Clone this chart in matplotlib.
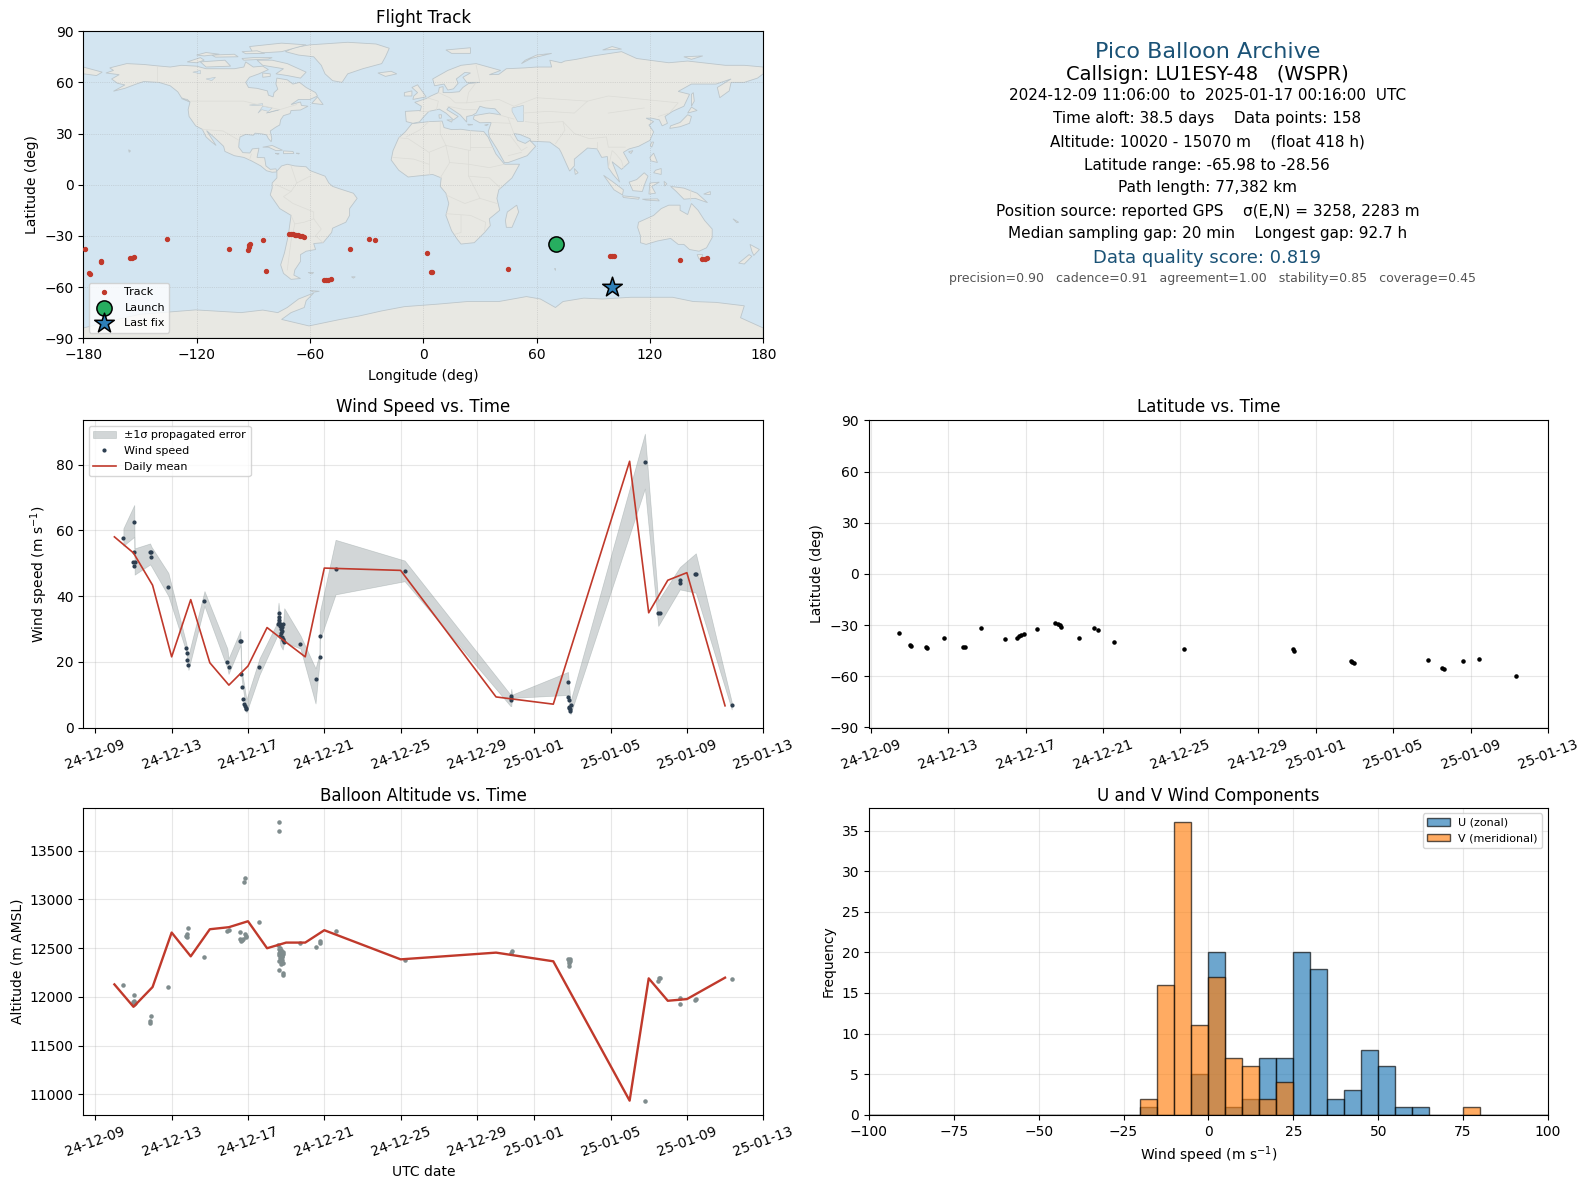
import datetime as dt
import numpy as np
import matplotlib
matplotlib.use("Agg")
import matplotlib.pyplot as plt
import matplotlib.dates as mdates

# ---- flight data, days since 2024-12-09 00:00 UTC ----
wind_days = [1.47, 2.05, 2.05, 1.99, 2.10, 2.05, 2.87, 2.92, 2.94, 3.83, 4.77, 4.83, 4.83, 4.88, 5.72,
             6.92, 6.98, 7.57, 7.63, 7.66, 7.71, 7.76, 7.81, 7.85, 7.88, 7.92, 8.60,
             9.60, 9.60, 9.62, 9.56, 9.60, 9.69, 9.81, 9.66, 9.78, 9.74, 9.80, 9.74, 9.76, 9.70, 9.86, 9.88, 9.82, 10.75, 11.54, 11.75, 11.75,
             12.59, 16.21, 21.80, 21.80, 21.80, 24.77, 24.77, 24.82, 24.92, 24.80, 24.87, 24.89, 24.84,
             28.80, 29.50, 29.57, 30.63, 30.63, 31.42, 31.47, 33.35]
wind_speed = [57.7, 62.6, 53.5, 50.4, 50.5, 49.2, 53.4, 53.3, 51.9, 42.8, 24.3, 22.8, 20.5, 19.1, 38.6,
              19.9, 18.5, 26.4, 26.4, 16.4, 12.2, 8.8, 7.3, 6.5, 5.8, 5.5, 18.3,
              34.9, 33.6, 32.6, 31.4, 31.8, 31.6, 31.4, 31.0, 30.6, 30.1, 29.4, 28.8, 27.5, 27.9, 26.7, 26.0, 27.0, 25.5, 14.9, 21.3, 27.9,
              48.2, 47.7, 9.5, 8.9, 8.3, 13.7, 9.4, 8.5, 6.8, 5.8, 5.5, 5.0, 6.2,
              80.8, 34.9, 34.9, 44.8, 44.0, 46.8, 46.8, 6.7]

band_days = [1.47, 2.04, 2.06, 2.87, 2.94, 3.83, 4.77, 4.88, 5.72, 6.92, 6.98, 7.60, 7.66, 7.92, 8.60,
             9.50, 9.60, 9.70, 9.82, 9.90, 10.75, 11.54, 11.75, 11.76, 12.59, 16.21, 21.76, 21.80, 21.84, 24.77, 24.90,
             28.80, 29.50, 30.63, 31.47, 33.35]
band_hi = [60.6, 67.7, 54.5, 56.0, 55.0, 47.0, 25.5, 22.0, 41.5, 24.0, 21.0, 29.5, 18.0, 8.5, 21.0,
           31.5, 38.0, 33.0, 30.0, 36.3, 28.0, 18.0, 22.5, 35.0, 57.1, 50.8, 10.0, 11.8, 10.0, 16.9, 8.0,
           89.4, 38.6, 48.8, 53.0, 7.8]
band_lo = [55.3, 58.0, 46.5, 49.6, 49.0, 40.0, 23.0, 17.5, 37.0, 18.0, 16.3, 25.0, 15.0, 4.5, 16.0,
           27.5, 29.0, 25.0, 23.7, 26.0, 24.0, 7.3, 20.0, 26.5, 40.5, 44.5, 6.5, 6.5, 9.0, 9.9, 4.0,
           72.7, 30.9, 42.0, 41.0, 5.5]

daily_days = [1, 2, 3, 4, 5, 6, 7, 8, 9, 10, 11, 12, 16, 21, 24, 28, 29, 30, 31, 33]
daily_wind = [58.0, 53.1, 43.3, 21.5, 38.9, 19.7, 12.9, 18.7, 30.4, 25.9, 21.5, 48.5, 47.8,
              9.3, 7.1, 81.0, 34.9, 44.8, 47.1, 6.6]
daily_alt = [12128, 11898, 12101, 12660, 12416, 12694, 12715, 12776, 12499, 12557, 12557, 12684, 12385,
             12454, 12365, 10935, 12190, 11960, 11977, 12197]

alt_days = [1.47, 2.05, 1.99, 2.05, 2.10, 2.05, 2.94, 2.88, 2.88, 3.83, 4.88, 4.83, 4.77, 4.83, 5.72,
            6.92, 6.98, 7.60, 7.60, 7.66, 7.71, 7.76, 7.85, 7.88, 7.92, 7.81, 7.87, 8.60,
            9.60, 9.60, 9.55, 9.62, 9.69, 9.76, 9.86, 9.65, 9.76, 9.60, 9.74, 9.81, 9.74, 9.65, 9.81, 9.83,
            9.66, 9.72, 9.78, 9.70, 9.80, 9.62, 9.74, 9.84,
            10.75, 11.54, 11.75, 11.75, 12.59, 16.21,
            21.83, 21.78, 24.77, 24.89, 24.84, 24.84, 24.80, 24.86, 28.80, 29.53, 29.50, 29.57, 30.63, 30.63, 31.42, 31.47, 33.35]
alt_m = [12122, 12019, 11947, 11954, 11940, 11926, 11799, 11748, 11727, 12101, 12708, 12646, 12626, 12619, 12410,
         12677, 12691, 12667, 12598, 12571, 12585, 12598, 12646, 12622, 12612, 13181, 13223, 12770,
         13799, 13706, 12530, 12495, 12475, 12461, 12458, 12434, 12406, 12372, 12365, 12348, 12338, 12276, 12245, 12225,
         12500, 12440, 12420, 12400, 12380, 12450, 12480, 12440,
         12554, 12513, 12571, 12554, 12677, 12375,
         12471, 12447, 12389, 12389, 12348, 12321, 12370, 12365, 10928, 12190, 12166, 12195, 11984, 11926, 11971, 11978, 12183]

lat_days = [1.45, 2.04, 2.08, 2.88, 2.92, 3.77, 4.77, 4.85, 5.69, 6.92, 7.58, 7.67, 7.78, 7.90, 8.58,
            9.54, 9.67, 9.79, 9.85, 10.77, 11.56, 11.75, 12.59, 16.21, 21.80, 21.86,
            24.80, 24.87, 24.98, 28.80, 29.53, 29.60, 30.63, 31.45, 33.35]
lat_deg = [-34.6, -41.5, -42.3, -43.0, -43.6, -37.5, -42.7, -42.7, -31.7, -38.1, -37.5, -36.5, -35.8, -35.2, -32.3,
           -29.0, -29.4, -29.8, -30.8, -37.5, -31.7, -32.9, -39.8, -43.8, -44.2, -45.0,
           -51.2, -51.7, -52.3, -50.2, -55.2, -55.6, -51.3, -49.6, -60.0]

track_lon = [-179.3, -176.9, -176.4, -170.6, -170.5, -155.3, -154.2, -153.0, -135.6, -103.0, -93.0, -92.5, -92.1, -91.7, -84.8,
             -83.1, -71.1, -70.0, -68.9, -68.0, -67.3, -66.2, -65.3, -64.0, -63.0, -52.6, -51.3, -50.2, -49.0, -38.7, -28.6, -25.3, 2.1, 4.0, 4.8,
             44.8, 98.7, 100.0, 101.1, 136.1, 147.7, 149.2, 150.5]
track_lat = [-37.8, -51.9, -52.4, -44.8, -45.5, -43.0, -43.0, -42.5, -31.9, -37.8, -38.2, -36.6, -35.6, -34.7, -32.5,
             -50.7, -29.0, -29.0, -29.0, -29.2, -29.4, -29.7, -30.0, -30.3, -30.7, -56.0, -56.0, -56.0, -55.4, -37.8, -31.9, -32.5, -40.1, -51.3, -51.3,
             -49.5, -41.9, -41.9, -41.9, -44.2, -43.7, -43.6, -43.0]
launch_lon, launch_lat = 70.4, -34.8
last_lon, last_lat = 100.2, -60.0

bin_edges = np.arange(-100, 105, 5)
u_counts = [0] * 16 + [1, 0, 0, 5, 20, 1, 2, 7, 7, 20, 18, 2, 3, 8, 6, 1, 1, 0, 0, 0, 0, 0, 0, 0]
v_counts = [0] * 16 + [2, 16, 36, 11, 17, 7, 6, 2, 4, 0, 0, 0, 0, 0, 0, 0, 0, 0, 0, 1, 0, 0, 0, 0]

info_lines = [
    ("Pico Balloon Archive", 1190, 51, 16, "#1a5276"),
    ("Callsign: LU1ESY-48   (WSPR)", 1190, 73, 14, "black"),
    ("2024-12-09 11:06:00  to  2025-01-17 00:16:00  UTC", 1190, 94, 11, "black"),
    ("Time aloft: 38.5 days    Data points: 158", 1190, 117, 11, "black"),
    ("Altitude: 10020 - 15070 m    (float 418 h)", 1190, 140, 11, "black"),
    ("Latitude range: -65.98 to -28.56", 1190, 163, 11, "black"),
    ("Path length: 77,382 km", 1190, 185, 11, "black"),
    ("Position source: reported GPS    σ(E,N) = 3258, 2283 m", 1190, 208, 11, "black"),
    ("Median sampling gap: 20 min    Longest gap: 92.7 h", 1190, 230, 11, "black"),
    ("Data quality score: 0.819", 1190, 254, 13, "#1a5276"),
    ("precision=0.90   cadence=0.91   agreement=1.00   stability=0.85   coverage=0.45", 1195.5, 274.5, 9, "#555555"),
]

# ---- rough world outline (lon, lat) ----
north_america = [(-168,65.5),(-164,67),(-166,68.5),(-157,71),(-148,70.5),(-141,69.7),(-134,69),(-128,70),(-120,69.5),
    (-115,68),(-108,68),(-100,68),(-95,69),(-94,72),(-90,69),(-85,69.5),(-82,67.5),(-87,65),(-92,63),(-94,60),(-92.5,57),
    (-88,56.5),(-82.5,55),(-82,52.5),(-79.5,51.5),(-79,54),(-77,56),(-78,59),(-77.5,62.5),(-72,61.5),(-69,59),(-65.5,60),
    (-62,57),(-57,54),(-56,52),(-60,50),(-66,50),(-70,47),(-65,48.5),(-64.5,46.5),(-61,46),(-65,43.8),(-70,43.5),(-70.5,41.7),
    (-74,40.5),(-75.5,38),(-76,35),(-78,33.8),(-81,31.5),(-80.2,27),(-80.5,25.2),(-82,27),(-83,29.2),(-85,29.7),(-89,30.2),
    (-90,29),(-94,29.5),(-97,28),(-97.5,25),(-97.7,22),(-95.5,18.8),(-91.8,18.6),(-90.5,21),(-87,21.4),(-88,16),(-84,15.8),
    (-83.3,11),(-81,9),(-78,9.3),(-77.5,7.5),(-80,7.3),(-83,8.2),(-86,11),(-91,14),(-95,16),(-100,17),(-105,19.5),(-105.7,22.5),
    (-109,26),(-112.5,29.5),(-114.7,31.7),(-112,27),(-109.7,23),(-112,25),(-115,28),(-117,32.5),(-120.5,34.5),(-124,40),
    (-124.5,44),(-123.5,48.5),(-128,51),(-130,54.5),(-134,58),(-140,60),(-148,60.5),(-152,59),(-158,56.5),(-164,54.8),
    (-158,58.5),(-162,59.5),(-165,62),(-161,64.5)]
greenland = [(-73,78),(-68,80.5),(-60,82),(-40,83.5),(-25,82.5),(-18,80),(-20,75),(-22,71),(-32,68),(-40,65),(-43,60),
    (-48,61),(-52,65),(-54,70),(-58,75),(-66,76)]
south_america = [(-77.5,8),(-75,11),(-72,12),(-68,11),(-62,10.5),(-60,8.3),(-52,5),(-50,1),(-48,-1),(-44,-2.5),(-37,-5),
    (-35,-8),(-39,-14),(-39,-18),(-41,-22),(-48,-25.5),(-48.5,-28),(-53,-34),(-58,-34.5),(-57,-38),(-62,-39),(-65,-41),
    (-65,-45),(-68,-50),(-68.5,-53),(-65,-55),(-70,-55.5),(-74,-52),(-75.5,-47),(-73.5,-40),(-71.5,-30),(-70,-18),(-76,-14),
    (-81,-6),(-80,-2),(-80,1),(-77.5,4)]
africa = [(-6,35.8),(3,37),(10,37.3),(11,33.5),(15,32.3),(20,32.5),(25,31.7),(32,31.2),(34.3,28),(37,21.5),(38.5,18),(43,12),
    (51,12),(47,4),(40,-3),(39,-8),(40.5,-15),(35,-20),(35.5,-24),(32.5,-28),(27,-34),(20,-34.8),(18,-32),(15,-27),(12,-18),
    (13.5,-11),(12,-5),(9,-1),(9.5,4),(5,6),(-4,5),(-8,4.5),(-13,8.5),(-17,14.5),(-16,20),(-13,27.5),(-9.5,31)]
eurasia = [(-9,37),(-9.5,43),(-1.5,43.5),(-1,46),(-4.5,48.3),(1.5,50.5),(4,52),(8,54),(8.5,57),(10.5,57.5),(10.5,54),(14,54),
    (19,54.5),(21,57),(24,59.3),(30,60),(23,60),(21,63),(25,65.5),(22,65.8),(17.5,62),(18.5,59.5),(16,56.2),(13,55.5),(11,59),
    (6,58),(5,62),(13,67),(20,70),(28,71),(41,67),(35,64.5),(40,64.7),(44,68),(54,68.5),(60,69),(68,69),(67,73),(73,71.5),
    (75,72.5),(81,73.5),(90,75.5),(105,78),(113,74),(130,71.5),(140,72.5),(160,70),(170,70),(180,69),(180,65),(177,62.5),
    (170,60),(163,60),(162,55),(157,51),(155.7,57),(163,62),(155,59),(142,59),(135,54.7),(141,53),(138,46),(132,43),(128,40),
    (129.3,36),(126.5,34.5),(125,38),(121,39),(118,39),(122,37),(119.5,35),(122,31),(120,26),(114,22.5),(109,21),(106,19),
    (109,13),(105,9),(100,13.5),(103,5),(104,1.5),(100.5,6),(98,10),(97.5,16.5),(94.5,16),(92,21),(87,21.5),(80,15),(80,11),
    (77.5,8),(73,19),(72,21),(67,25),(57,25.5),(56.5,27),(51,29.5),(48,30),(50,26),(54,24.2),(56.5,26),(59.5,22.5),(55,17),
    (45,13),(43,13),(39,21),(35,28),(34.5,31.5),(36,36.5),(30,36.3),(26.5,38.5),(27,40.5),(35,42),(41,41),(38,44.5),(33,45),
    (30,46),(28,42),(26,40.7),(23,40),(23,36.7),(19.5,41),(13.5,45.5),(12.5,44),(18.5,40),(16,38),(12,42),(8.5,44.3),(3,43),
    (0,39.5),(-2,36.8),(-5.5,36)]
australia = [(114,-22),(122,-18),(126,-14),(130,-12),(136,-12),(136,-15),(140,-17.5),(142,-11),(145.5,-15),(149,-21),(153,-26),
    (153,-31),(150,-37),(146,-39),(141,-38),(138,-35),(135,-35),(131,-31.5),(124,-33),(118,-35),(115,-34),(115,-30),(113.5,-25)]
antarctica = [(-180,-84),(-158,-78),(-150,-76),(-120.5,-73.4),(-96.5,-75),(-85,-73.5),(-77,-75),(-72,-72),(-66,-67),(-58,-63.5),(-62,-68),(-63,-72),(-70,-75),
    (-75,-79),(-60.5,-82.8),(-44,-79),(-34,-77),(-22,-74),(-10,-71.5),(8,-70),(23.4,-68.5),(40,-68.5),(54.6,-65.6),(62,-67),(70,-72),(74,-68.5),(85,-66.5),(95,-67),(110,-66),(119,-66),
    (132,-66),(143,-68.5),(155,-69),(170,-71),(168,-78),(180,-84),(180,-90),(-180,-90)]
islands = [
    [(-80,73),(-72,71),(-66,68),(-62,66),(-65,62.5),(-72,64),(-78,65),(-74,68),(-85,70),(-88,73)],
    [(-118,72),(-105,73),(-102,69.5),(-115,69)],
    [(-90,77),(-75,78),(-62,82),(-75,83),(-92,81)],
    [(-125,72),(-118,74.5),(-116,73),(-120,71.5)],
    [(-112,76),(-100,76.5),(-98,75),(-110,74.8)],
    [(-96,74),(-90,74.5),(-80,74.5),(-82,73.7),(-95,73)],
    [(-120,76),(-115,77.5),(-108,76.5),(-116,75.5)],
    [(-96,78),(-88,78.5),(-84,77),(-94,76.8)],
    [(-85,65.5),(-81,65),(-81,63.5),(-85,63)],
    [(-128,50.5),(-125,50),(-123.5,48.5)],
    [(-59,47.7),(-53,47),(-56,51.5)],
    [(-85,22),(-80,23),(-74.5,20.2),(-78,20),(-82,22)],
    [(-74,19.8),(-69,19.5),(-68.5,18.3),(-74,18.2)],
    [(-78.3,18.4),(-76.3,18.2),(-77,17.8)],
    [(-67.2,18.5),(-65.6,18.4),(-66,18)],
    [(-5.5,50),(1.5,51.5),(0,54),(-2,57),(-3,58.6),(-6,57),(-3,54),(-5,52)],
    [(-10,52),(-6,52),(-6,55),(-10,54)],
    [(-24,65.5),(-20,63.5),(-14,65),(-17,66.5)],
    [(12,79),(25,80.3),(25,77),(15,77)],
    [(52,71),(57,74),(68,77),(60,76),(54,73)],
    [(95,79),(105,79.5),(100,81)],
    [(138,75),(148,75.5),(142,73.5)],
    [(12.5,38),(15.5,38),(15,36.7)],
    [(8.3,41),(9.7,41),(9.5,39),(8.5,39)],
    [(23.5,35.5),(26.3,35.2),(24,34.9)],
    [(32.5,35),(34.5,35.5),(33.5,34.6)],
    [(130.5,33),(136,34),(141,36),(142,40),(140,41),(136,36.5),(131,34.5)],
    [(140,42),(145,43.5),(142,45.5)],
    [(142,46),(143.5,49),(143,54),(142,53)],
    [(120.2,23),(121,22),(122,25),(121,25)],
    [(108.7,19.3),(111,20),(110,18.3)],
    [(120,16),(122,18.5),(124,13),(120.5,14)],
    [(122,7),(126,6),(126,9.5),(123,8.5)],
    [(95.5,5.5),(100,2),(106,-3),(105.5,-6),(101,-3)],
    [(105.5,-6.5),(114.5,-7.5),(114,-8.5),(106,-7.5)],
    [(116,-8.5),(124,-8.3),(125,-9.5),(118,-9)],
    [(109,1.5),(113,3),(117,7),(119,5),(117.5,1),(116,-4),(111,-3.5)],
    [(119.5,-5.5),(120,1),(125,1.5),(121,-1),(123,-5)],
    [(127.5,2),(129,0.5),(127.8,-0.8)],
    [(131,-1),(138,-2),(145,-5),(150.5,-10.5),(144,-8),(138,-8.5),(134,-4)],
    [(148.5,-5.5),(152,-4),(152,-5.8)],
    [(164,-20),(167,-22),(166,-22.3)],
    [(80,9.5),(82,7),(80.5,6)],
    [(145,-41),(148,-41),(147,-43.5),(146,-43.5)],
    [(173,-35),(178,-38),(175,-41.5),(174,-39)],
    [(172.5,-41),(174,-42),(170,-46.5),(167,-46)],
    [(49.5,-12),(50.5,-16),(47,-25),(44,-25),(43.5,-21),(44.5,-16)],
    [(69,-49),(70,-49),(70,-50)],
    [(-61,-51.5),(-58,-51.5),(-59,-52.3)],
    [(-38,-54),(-36,-54),(-37,-54.8)],
    [(-180,69),(-170,66),(-173,64),(-180,65)],
    [(-156,20.5),(-155,19.8),(-155.7,19)],
    [(-60,-62),(-55,-62.5),(-58,-63)],
]
lakes = [
    [(47,45),(53,46.5),(53,37),(50,37),(47,43)],
    [(-92,46.7),(-85,47.5),(-85,46.5),(-90,46.5)],
    [(-87.5,42),(-85,46),(-80,45),(-82,43),(-85.5,44)],
    [(-83,42),(-79,43),(-76,44),(-79,43.3)],
    [(-122,66),(-118,67),(-118,65)],
    [(-115,62),(-110,63),(-112,61)],
]
borders = [
    [(-141,69.7),(-141,60)], [(-123,49),(-95,49),(-84,46),(-76,44),(-67,47)], [(-117,32.5),(-106,31.5),(-97.5,26)],
    [(-92,14.5),(-91,18)], [(-70,11),(-67,1),(-70,-4),(-74,-7),(-69,-11),(-58,-16),(-58,-20),(-54,-26),(-57,-30),(-53,-34)],
    [(-70,-18),(-68,-23),(-70,-33),(-72,-50)], [(-58,-20),(-63,-22),(-68,-23)], [(-60,5),(-67,1)], [(-78,0),(-70,-4)],
    [(-13,27.5),(-8,27),(3,19),(12,23),(25,20),(25,31.7)], [(25,22),(37,22)], [(3,19),(3,12),(3,6)], [(12,23),(14,13),(9,4)],
    [(-16,16),(-5,15),(3,12)], [(14,13),(24,12),(35,10),(43,12)], [(24,20),(24,5),(30,-8),(22,-11),(12,-6)], [(24,5),(35,4),(41,-2)],
    [(30,-8),(39,-11)], [(12,-17),(25,-18),(33,-22),(32.5,-27)], [(20,-18),(20,-28),(17,-29)], [(3,37),(-2,32),(-9,28)],
    [(9,37),(9,30),(12,23)], [(-2,43),(3,43)], [(2,51),(8,49),(7,44)], [(8,54),(14,51),(17,48),(23,48),(24,54),(28,60)],
    [(13,46),(22,44),(28,44)], [(28,70),(30,60)], [(23,48),(40,50),(48,46)], [(40,41),(48,38.5)], [(36,36.5),(46,36),(48,30)],
    [(46,36),(45,39)], [(35,30),(46,29),(52,20),(55,22)], [(45,17),(52,19)], [(54,37),(61,36),(61,26)], [(61,36),(74,37),(75,32),(70,24)],
    [(53,42),(66,43),(80,42),(87,49),(60,51),(48,46)], [(87,49),(98,52),(117,50),(135,48),(131,43)], [(98,42),(117,45)],
    [(74,37),(80,30),(88,27),(97,28),(98,22),(102,22),(107,22)], [(92,21),(92,25)], [(98,10),(100,20),(102,18),(105,14),(106,10)],
    [(124.5,40),(130,42)], [(141,-2.5),(141,-9)],
]


def to_date(days):
    return mdates.date2num(dt.datetime(2024, 12, 9)) + np.asarray(days, dtype=float)


def px_axes(fig, x0, y0, x1, y1):
    # pixel box (y measured from the top) -> figure fraction
    w, h = 1589.0, 1189.0
    return fig.add_axes([x0 / w, 1 - y1 / h, (x1 - x0) / w, (y1 - y0) / h])


def date_axis(ax, start):
    ax.set_xlim(to_date(start), to_date(35))
    locator = mdates.AutoDateLocator()
    ax.xaxis.set_major_locator(locator)
    ax.xaxis.set_major_formatter(mdates.DateFormatter("%y-%m-%d"))
    ax.tick_params(axis="x", labelrotation=20)
    ax.grid(True, alpha=0.3)
    ax.set_axisbelow(True)


RED = "#c0392b"
fig = plt.figure(figsize=(15.89, 11.89), dpi=100)

# ---- map ----
ax_map = px_axes(fig, 83.3, 31.2, 763.2, 338.2)
ax_map.set_facecolor("#d3e5f1")
land_shapes = [north_america, greenland, south_america, africa, eurasia, australia, antarctica] + islands
for shape in land_shapes:
    xs, ys = zip(*shape)
    ax_map.fill(xs, ys, facecolor="#e8e8e3", edgecolor="#bcc6cb", linewidth=0.6, zorder=1)
for shape in lakes:
    xs, ys = zip(*shape)
    ax_map.fill(xs, ys, facecolor="#d3e5f1", edgecolor="#bcc6cb", linewidth=0.4, zorder=1.1)
for line in borders:
    xs, ys = zip(*line)
    ax_map.plot(xs, ys, color="#dcdcd7", linewidth=0.5, zorder=1.2)
ax_map.grid(True, linestyle=":", linewidth=0.5, color="#999999", alpha=0.5, zorder=1.5)
ax_map.scatter(track_lon, track_lat, s=8, color=RED, zorder=3, label="Track")
ax_map.scatter([launch_lon], [launch_lat], s=120, color="#27ae60", edgecolor="black", linewidth=1.1, zorder=4, label="Launch")
ax_map.scatter([last_lon], [last_lat], s=220, marker="*", color="#2e7fb8", edgecolor="black", linewidth=1.1, zorder=4, label="Last fix")
ax_map.set_xlim(-180, 180)
ax_map.set_ylim(-90, 90)
ax_map.set_xticks(np.arange(-180, 181, 60))
ax_map.set_yticks(np.arange(-90, 91, 30))
ax_map.set_xlabel("Longitude (deg)", labelpad=5)
ax_map.set_ylabel("Latitude (deg)")
ax_map.set_title("Flight Track", fontsize=12)
ax_map.legend(loc="lower left", fontsize=8, framealpha=0.8)

# ---- summary text ----
for text, x, y, size, colour in info_lines:
    fig.text(x * 1.0146 / 1589, 1 - y * 1.0146 / 1189, text, ha="center", va="center", fontsize=size, color=colour)

# ---- wind speed ----
ax_wind = px_axes(fig, 83.3, 420.5, 763.2, 727.5)
ax_wind.fill_between(to_date(band_days), band_lo, band_hi, color="#7f8c8d", alpha=0.35, linewidth=0.5, label="±1σ propagated error")
ax_wind.plot(to_date(wind_days), wind_speed, ".", color="#2c3e50", markersize=4, label="Wind speed")
ax_wind.plot(to_date(daily_days), daily_wind, color=RED, linewidth=1.2, label="Daily mean")
date_axis(ax_wind, -0.63)
ax_wind.set_ylim(0, 93.4)
ax_wind.set_ylabel("Wind speed (m s$^{-1}$)")
ax_wind.set_title("Wind Speed vs. Time", fontsize=12)
ax_wind.legend(loc="upper left", fontsize=8)

# ---- latitude ----
ax_lat = px_axes(fig, 868.8, 420.5, 1548, 727.5)
ax_lat.plot(to_date(lat_days), lat_deg, ".", color="black", markersize=4.5)
date_axis(ax_lat, -0.1)
ax_lat.set_ylim(-90, 90)
ax_lat.set_yticks(np.arange(-90, 91, 30))
ax_lat.set_ylabel("Latitude (deg)")
ax_lat.set_title("Latitude vs. Time", fontsize=12)

# ---- altitude ----
ax_alt = px_axes(fig, 83.3, 807.8, 763.2, 1114.8)
ax_alt.plot(to_date(alt_days), alt_m, ".", color="#7f8c8d", markersize=4.5)
ax_alt.plot(to_date(daily_days), daily_alt, color=RED, linewidth=1.7)
date_axis(ax_alt, -0.63)
ax_alt.set_ylim(10790, 13940)
ax_alt.set_xlabel("UTC date")
ax_alt.set_ylabel("Altitude (m AMSL)")
ax_alt.set_title("Balloon Altitude vs. Time", pad=5.2, fontsize=12)

# ---- U / V histogram ----
ax_hist = px_axes(fig, 868.8, 807.8, 1548, 1114.8)
ax_hist.bar(bin_edges[:-1], u_counts, width=5, align="edge", color="tab:blue", alpha=0.65, edgecolor="black", label="U (zonal)")
ax_hist.bar(bin_edges[:-1], v_counts, width=5, align="edge", color="tab:orange", alpha=0.65, edgecolor="black", label="V (meridional)")
ax_hist.set_xlim(-100, 100)
ax_hist.set_xticks(np.arange(-100, 101, 25))
ax_hist.set_ylim(0, 37.8)
ax_hist.grid(True, alpha=0.3)
ax_hist.set_axisbelow(True)
ax_hist.set_xlabel("Wind speed (m s$^{-1}$)")
ax_hist.set_ylabel("Frequency")
ax_hist.set_title("U and V Wind Components", pad=5.2, fontsize=12)
ax_hist.legend(loc="upper right", fontsize=8)

fig.savefig("out.png", dpi=100)
